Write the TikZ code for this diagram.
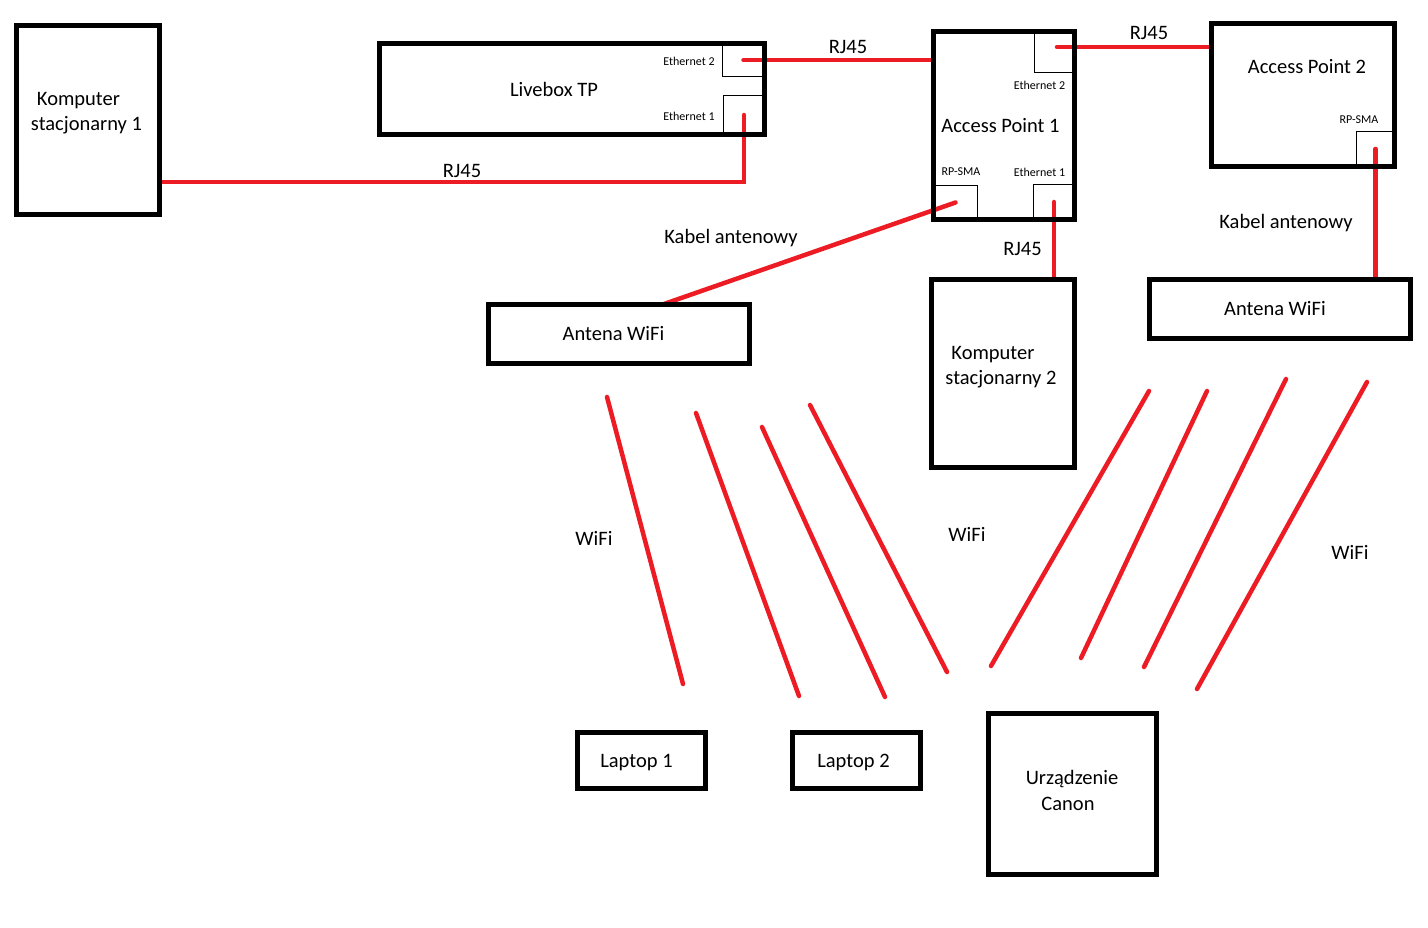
\documentclass[tikz,border=0pt]{standalone}
\usepackage{fontspec}
\setmainfont{Carlito}
\usetikzlibrary{backgrounds}
\definecolor{paintred}{HTML}{ED1C24}
\begin{document}
\begin{tikzpicture}[x=1pt,y=-1pt,
  box/.style={draw=black,line width=5pt,inner sep=0pt,outer sep=0pt,minimum width=#1},
  port/.style={draw=black,line width=1pt,inner sep=0pt,outer sep=0pt,minimum width=#1},
  big/.style={inner sep=0pt,font=\fontsize{20.5}{25.5}\selectfont},
  small/.style={inner sep=0pt,font=\fontsize{12}{14}\selectfont},
  wire/.style={draw=paintred,line width=4.5pt,line cap=round}]
\useasboundingbox (0,0) rectangle (1428,928);

% ports (thin)
\node[port=42,minimum height=33.5] (lbe2) at (743.5,60.25) {};
\node[port=41,minimum height=39] (lbe1) at (744,115) {};
\node[port=40,minimum height=41.5] (ap1e2) at (1054.5,52.25) {};
\node[port=41,minimum height=35] (ap1e1) at (1054,202) {};
\node[port=44,minimum height=34] (ap1rp) at (955.5,202.5) {};
\node[port=38,minimum height=35] (ap2rp) at (1375.5,149) {};

% boxes
\node[box=143,minimum height=189] (k1) at (88,120) {};
\node[box=385,minimum height=91] (lb) at (572,89) {};
\node[box=141,minimum height=188] (ap1) at (1004,125.5) {};
\node[box=183,minimum height=143] (ap2) at (1303,95) {};
\node[box=261,minimum height=59] (a1) at (619,334) {};
\node[box=143,minimum height=188] (k2) at (1003,373.5) {};
\node[box=261,minimum height=59] (a2) at (1280,309) {};
\node[box=128,minimum height=56] (l1) at (641.5,760.5) {};
\node[box=128,minimum height=56] (l2) at (856.5,760.5) {};
\node[box=168,minimum height=161] (cn) at (1072.5,794) {};

% texts in boxes
\node[big,align=left] (tk1) at (86.5,113) {\hspace*{6pt}Komputer\\stacjonarny 1};
\node[big,anchor=base] (tlb) at (554,97) {Livebox TP};
\node[small,anchor=base] (tlbe2) at (689,66) {Ethernet 2};
\node[small,anchor=base] (tlbe1) at (689,121) {Ethernet 1};
\node[small,anchor=base] (tap1e2) at (1039.5,90) {Ethernet 2};
\node[big,anchor=base] (tap1) at (1000.5,133) {Access Point 1};
\node[small,anchor=base] (tap1rp) at (961,176) {RP-SMA};
\node[small,anchor=base] (tap1e1) at (1039.5,177) {Ethernet 1};
\node[big,anchor=base] (tap2) at (1307,74) {Access Point 2};
\node[small,anchor=base] (tap2rp) at (1359,124) {RP-SMA};
\node[big,anchor=base] (ta1) at (613.5,341) {Antena WiFi};
\node[big,anchor=base] (ta2) at (1275,316) {Antena WiFi};
\node[big,align=left] (tk2) at (1001,367) {\hspace*{6pt}Komputer\\stacjonarny 2};
\node[big,anchor=base] (tl1) at (636.5,767) {Laptop 1};
\node[big,anchor=base] (tl2) at (853.5,767) {Laptop 2};
\node[big,align=center] (tcn) at (1072,790.5) {Urządzenie\\Canon\hspace*{8pt}};

% connector labels
\node[big,anchor=base] (r1) at (462,178) {RJ45};
\node[big,anchor=base] (r2) at (848,54) {RJ45};
\node[big,anchor=base] (r3) at (1149,40) {RJ45};
\node[big,anchor=base] (r4) at (1022.5,256) {RJ45};
\node[big,anchor=base] (kab1) at (731,244) {Kabel antenowy};
\node[big,anchor=base] (kab2) at (1286,229) {Kabel antenowy};
\node[big,anchor=base] (w1) at (594,545) {WiFi};
\node[big,anchor=base] (w2) at (967,541) {WiFi};
\node[big,anchor=base] (w3) at (1350,559) {WiFi};

\coordinate (c1) at (744,182);
\coordinate (c2) at (1057,47);
\coordinate (c3) at (664,304);

\begin{pgfonlayer}{background}
\fill[white] (0,0) rectangle (1428,928);
\draw[wire] (lbe1.center) -- (c1) -- (c1 -| k1.east);
\draw[wire] (lbe2.center) -- (lbe2.center -| ap1.west);
\draw[wire] (c2) -- (c2 -| ap2.west);
\draw[wire] (ap1e1.center) -- (ap1e1.center |- k2.north);
\draw[wire] (ap1rp.center) -- (c3);
\draw[wire] (ap2rp.center) -- (ap2rp.center |- a2.north);
\end{pgfonlayer}

% WiFi strokes
\draw[wire] (607,397) -- (683,684);
\draw[wire] (696,413) -- (799,696);
\draw[wire] (762,427) -- (885,697);
\draw[wire] (810,405) -- (947,672);
\draw[wire] (1149,391) -- (991,666);
\draw[wire] (1207,391) -- (1081,658);
\draw[wire] (1286,379) -- (1144,667);
\draw[wire] (1367,382) -- (1197,689);
\end{tikzpicture}
\end{document}
